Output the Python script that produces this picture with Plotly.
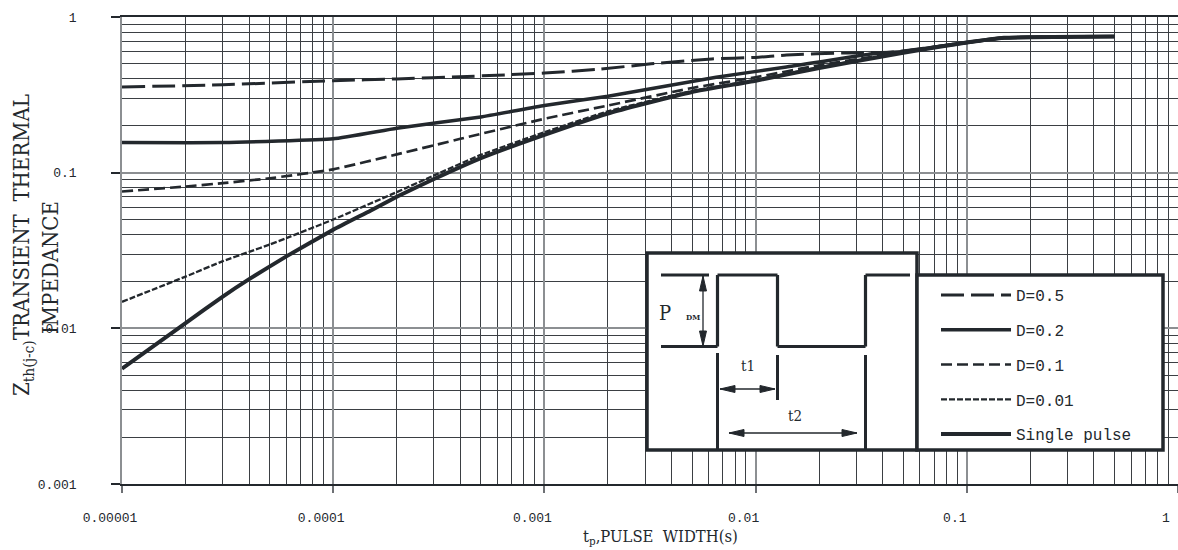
import plotly.graph_objects as go

# ---- transient thermal impedance Zth(j-c) versus pulse width tp (s) ----
t_d05 = [1e-5, 3e-5, 1e-4, 2e-4, 4.3e-4, 1e-3, 1.85e-3, 3.2e-3, 6.2e-3, 1e-2, 1.4e-2, 2.7e-2, 4.5e-2, 1e-1, 1.5e-1, 5e-1]
z_d05 = [0.355, 0.367, 0.39, 0.40, 0.415, 0.436, 0.463, 0.50, 0.538, 0.55, 0.57, 0.588, 0.596, 0.685, 0.735, 0.75]

t_d02 = [1e-5, 3e-5, 1e-4, 2e-4, 5e-4, 1e-3, 2e-3, 6.5e-3, 1.4e-2, 3.4e-2, 5e-2, 1e-1, 1.5e-1, 5e-1]
z_d02 = [0.156, 0.156, 0.165, 0.193, 0.228, 0.27, 0.31, 0.41, 0.477, 0.575, 0.6, 0.685, 0.735, 0.75]

t_d01 = [1e-5, 2e-5, 3e-5, 5e-5, 1e-4, 2e-4, 4e-4, 1e-3, 2e-3, 5e-3, 1e-2, 2e-2, 5e-2, 1e-1, 1.5e-1, 5e-1]
z_d01 = [0.0757, 0.0815, 0.0857, 0.092, 0.105, 0.131, 0.165, 0.222, 0.27, 0.35, 0.41, 0.49, 0.595, 0.685, 0.735, 0.75]

t_d001 = [1e-5, 2e-5, 3e-5, 4e-5, 5e-5, 6e-5, 1e-4, 2e-4, 3e-4, 5e-4, 1e-3, 2e-3, 5e-3, 1e-2, 2e-2, 5e-2, 1e-1, 1.5e-1, 5e-1]
z_d001 = [0.0148, 0.0215, 0.027, 0.031, 0.0345, 0.038, 0.05, 0.075, 0.096, 0.13, 0.182, 0.248, 0.335, 0.395, 0.475, 0.592, 0.685, 0.735, 0.75]

t_single = [1e-5, 2e-5, 3e-5, 4e-5, 6e-5, 1e-4, 1.5e-4, 2e-4, 3e-4, 5e-4, 1e-3, 2e-3, 3e-3, 5e-3, 1e-2, 2e-2, 5e-2, 1e-1, 1.5e-1, 5e-1]
z_single = [0.0055, 0.0108, 0.016, 0.0207, 0.029, 0.043, 0.057, 0.07, 0.091, 0.124, 0.175, 0.24, 0.278, 0.33, 0.39, 0.47, 0.59, 0.685, 0.735, 0.75]

x_tick_vals = [1e-5, 1e-4, 1e-3, 1e-2, 1e-1, 1]
x_tick_text = ["0.00001", "0.0001", "0.001", "0.01", "0.1", "1"]
y_tick_vals = [1e-3, 1e-2, 1e-1, 1]
y_tick_text = ["0.001", "0.01", "0.1", "1"]

INK = "#23282d"
GRID_MAJOR = "#8c8f92"
GRID_MINOR = "#3b3f43"
MONO = "Liberation Mono, DejaVu Sans Mono, monospace"
SERIF = "DejaVu Serif Condensed, DejaVu Serif, serif"

# figure geometry (pixels)
FIG_W, FIG_H = 1178, 550
M_L, M_R, M_T, M_B = 122, 0, 17, 66
PW = FIG_W - M_L - M_R
PH = FIG_H - M_T - M_B


def px(x):
    return (x - M_L) / PW


def py(y):
    return (FIG_H - M_B - y) / PH


series = [
    ("D=0.5", t_d05, z_d05, dict(width=3, dash="23px,7px")),
    ("D=0.2", t_d02, z_d02, dict(width=3.5, dash="solid")),
    ("D=0.1", t_d01, z_d01, dict(width=2.7, dash="11px,5px")),
    ("D=0.01", t_d001, z_d001, dict(width=2.3, dash="6px,2px")),
    ("Single pulse", t_single, z_single, dict(width=4, dash="solid")),
]

fig = go.Figure()
for name, t, z, style in series:
    fig.add_trace(go.Scatter(
        x=t, y=z, mode="lines", name=name, legendgroup=name,
        line=dict(color=INK, shape="spline", smoothing=0.4, **style),
    ))

minor_x = [m * 10.0 ** e for e in range(-5, 0) for m in range(2, 10)]
minor_y = [m * 10.0 ** e for e in range(-3, 0) for m in range(2, 10)]

# inset: pulse train diagram and legend frame
shapes = []


def seg(x0, y0, x1, y1, w=3.2):
    shapes.append(dict(type="line", xref="paper", yref="paper",
                       x0=px(x0), y0=py(y0), x1=px(x1), y1=py(y1),
                       line=dict(color=INK, width=w), layer="above"))


def box(x0, y0, x1, y1):
    shapes.append(dict(type="rect", xref="paper", yref="paper",
                       x0=px(x0), y0=py(y0), x1=px(x1), y1=py(y1),
                       fillcolor="white", line=dict(color=INK, width=3.5),
                       layer="above"))


def head(xt, yt, dx, dy, length=15, half=3.5):
    # filled arrow head with its tip at (xt, yt), pointing along (dx, dy)
    bx, by = xt - dx * length, yt - dy * length
    nx, ny = -dy * half, dx * half
    pts = [(xt, yt), (bx + nx, by + ny), (bx - nx, by - ny)]
    path = "M " + " L ".join(f"{px(a):.5f},{py(b):.5f}" for a, b in pts) + " Z"
    shapes.append(dict(type="path", xref="paper", yref="paper", path=path,
                       fillcolor=INK, line=dict(color=INK, width=1), layer="above"))


def double_arrow(x0, y0, x1, y1):
    seg(x0, y0, x1, y1, w=1.3)
    dx, dy = x1 - x0, y1 - y0
    n = (dx * dx + dy * dy) ** 0.5
    dx, dy = dx / n, dy / n
    head(x1, y1, dx, dy)
    head(x0, y0, -dx, -dy)


box(647, 253, 917, 450)
box(917, 275, 1163, 450)

# pulse waveform
seg(661, 275, 709, 275)
seg(661, 346.5, 717.5, 346.5)
seg(717.5, 346.5, 717.5, 275)
seg(717.5, 275, 777.5, 275)
seg(777.5, 275, 777.5, 346.5)
seg(777.5, 346.5, 865.5, 346.5)
seg(865.5, 346.5, 865.5, 275)
seg(865.5, 275, 910, 275)
# timing markers
seg(717.5, 353, 717.5, 450, w=3)
seg(777.5, 355, 777.5, 400, w=3)
seg(865.5, 355, 865.5, 450, w=3)
double_arrow(703, 276, 703, 346)
double_arrow(720, 389, 775, 389)
double_arrow(729, 433, 857, 433)

annotations = [
    dict(text="P", x=px(665), y=py(313), font=dict(family=SERIF, size=20, color=INK)),
    dict(text="<b>DM</b>", x=px(693), y=py(317), font=dict(family=SERIF, size=8, color=INK)),
    dict(text="t1", x=px(748), y=py(366), font=dict(family=SERIF, size=15, color=INK)),
    dict(text="t2", x=px(795), y=py(416), font=dict(family=SERIF, size=15, color=INK)),
    dict(text="Z<sub>th(j-c)</sub>TRANSIENT  THERMAL",
         x=px(23), y=py(245), textangle=-90,
         font=dict(family=SERIF, size=22, color=INK)),
    dict(text="IMPEDANCE",
         x=px(50), y=py(268), textangle=-90,
         font=dict(family=SERIF, size=22, color=INK)),
    dict(text="t<sub>p</sub>,PULSE  WIDTH(s)", x=px(660), y=py(537),
         font=dict(family=SERIF, size=16.5, color=INK)),
]
for a in annotations:
    a.update(xref="paper", yref="paper", showarrow=False, xanchor="center", yanchor="middle")

fig.update_layout(
    width=FIG_W, height=FIG_H,
    margin=dict(l=M_L, r=M_R, t=M_T, b=M_B, pad=0),
    paper_bgcolor="white", plot_bgcolor="white",
    shapes=shapes, annotations=annotations,
    showlegend=True,
    legend=dict(
        x=px(936), y=py(278), xanchor="left", yanchor="top",
        bgcolor="rgba(0,0,0,0)", borderwidth=0,
        font=dict(family=MONO, size=16, color=INK),
        itemwidth=70, traceorder="grouped", tracegroupgap=11,
    ),
    xaxis=dict(
        type="log", range=[-5, 0], automargin=False,
        tickmode="array", tickvals=x_tick_vals, ticktext=x_tick_text,
        ticks="outside", ticklen=7, tickwidth=1.5, tickcolor="#6d7074",
        ticklabelstandoff=14, ticklabelshift=-12,
        tickfont=dict(family=MONO, size=13, color=INK),
        showgrid=True, gridcolor=GRID_MAJOR, gridwidth=1.5,
        minor=dict(tickmode="array", tickvals=minor_x, showgrid=True,
                   gridcolor=GRID_MINOR, gridwidth=1, ticks=""),
        showline=True, linecolor=INK, linewidth=1.5, mirror=True,
        zeroline=False,
    ),
    yaxis=dict(
        type="log", range=[-3, 0], automargin=False,
        tickmode="array", tickvals=y_tick_vals, ticktext=y_tick_text,
        ticks="outside", ticklen=9, tickwidth=1.5, tickcolor=INK,
        ticklabelstandoff=32,
        tickfont=dict(family=MONO, size=13, color=INK),
        showgrid=True, gridcolor=GRID_MAJOR, gridwidth=1.5,
        minor=dict(tickmode="array", tickvals=minor_y, showgrid=True,
                   gridcolor=GRID_MINOR, gridwidth=1, ticks=""),
        showline=True, linecolor=GRID_MAJOR, linewidth=1.5, mirror=True,
        zeroline=False,
    ),
)

fig.write_html("out.html")
